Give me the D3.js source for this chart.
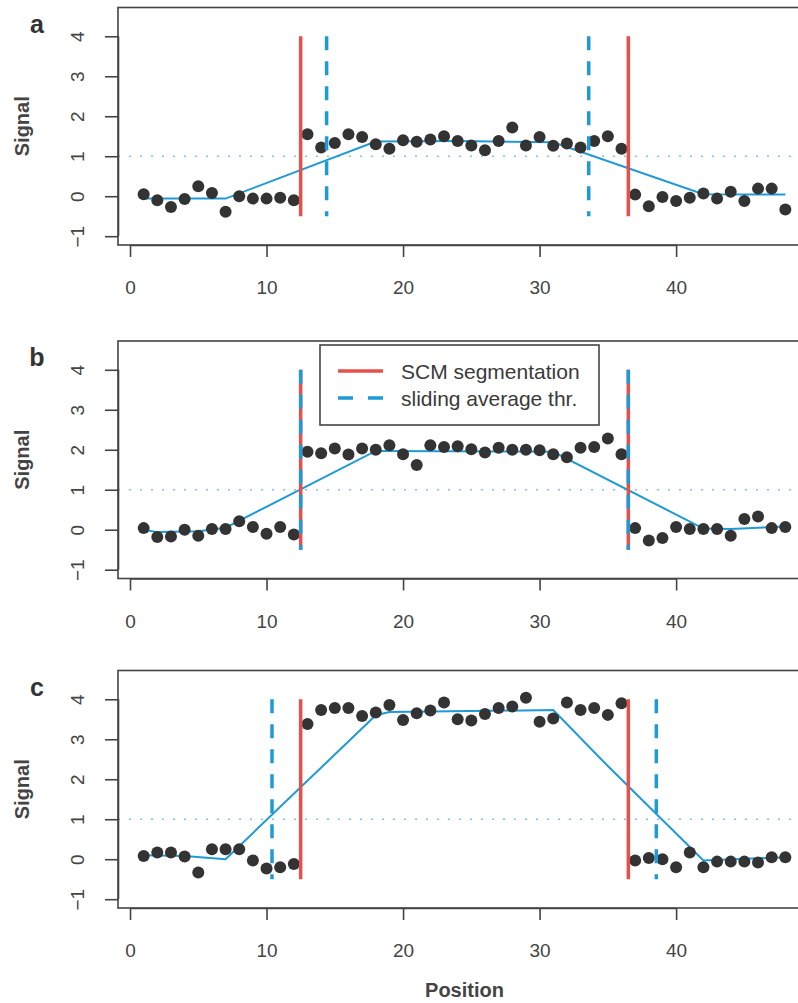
<!DOCTYPE html>
<html>
<head>
<meta charset="utf-8">
<script src="https://cdnjs.cloudflare.com/ajax/libs/d3/7.8.5/d3.min.js"></script>
<style>
  body { margin: 0; background: #fff; }
  svg { display: block; font-family: "Liberation Sans", Arial, Helvetica, sans-serif; }
</style>
</head>
<body>
<div id="chart"></div>
<script>
// ---- data ----
const positions = d3.range(1, 49);

const signalA = [0.05, -0.1, -0.27, -0.07, 0.25, 0.08, -0.39, 0.0, -0.06, -0.06, -0.04, -0.1,
  1.55, 1.22, 1.33, 1.55, 1.48, 1.3, 1.19, 1.4, 1.36, 1.42, 1.5, 1.38,
  1.27, 1.15, 1.38, 1.72, 1.27, 1.48, 1.26, 1.32, 1.22, 1.38, 1.5, 1.19,
  0.04, -0.25, -0.02, -0.12, -0.04, 0.07, -0.06, 0.11, -0.12, 0.19, 0.19, -0.33];

const signalB = [0.04, -0.18, -0.17, 0.0, -0.15, 0.02, 0.02, 0.21, 0.07, -0.1, 0.07, -0.12,
  1.95, 1.91, 2.03, 1.88, 2.03, 2.0, 2.11, 1.89, 1.62, 2.11, 2.07, 2.09,
  2.01, 1.93, 2.05, 2.0, 2.0, 1.99, 1.89, 1.81, 2.05, 2.07, 2.28, 1.89,
  0.04, -0.27, -0.21, 0.07, 0.02, 0.02, 0.02, -0.15, 0.27, 0.33, 0.04, 0.07];

const signalC = [0.08, 0.17, 0.17, 0.07, -0.33, 0.25, 0.25, 0.25, -0.03, -0.23, -0.2, -0.12,
  3.38, 3.73, 3.78, 3.78, 3.58, 3.67, 3.86, 3.48, 3.65, 3.72, 3.92, 3.5,
  3.47, 3.63, 3.78, 3.82, 4.04, 3.44, 3.52, 3.92, 3.73, 3.78, 3.61, 3.9,
  -0.03, 0.03, 0.0, -0.2, 0.17, -0.2, -0.06, -0.06, -0.06, -0.08, 0.05, 0.05];

// sliding average curve, vertices as seen in the figure
const avgPosA = [1, 7, 18, 24, 31, 42, 48];
const avgValA = [-0.06, -0.06, 1.37, 1.38, 1.35, 0.05, 0.04];
const avgPosB = [1, 2, 5, 7, 18, 31, 42, 44, 48];
const avgValB = [0.0, -0.06, -0.04, 0.05, 1.97, 1.95, 0.03, 0.02, 0.08];
const avgPosC = [1, 4, 7, 18, 19, 31, 35, 42, 48];
const avgValC = [0.1, 0.08, 0.0, 3.6, 3.68, 3.73, 2.33, -0.03, 0.05];

const scmBreaks = [12.5, 36.5];
const thrBreaksA = [14.4, 33.6];
const thrBreaksB = [12.5, 36.5];
const thrBreaksC = [10.4, 38.55];

const panelLabels = ["a", "b", "c"];
const xTicks = [0, 10, 20, 30, 40];
const yTicks = [-1, 0, 1, 2, 3, 4];
const threshold = 1;
const legendLabels = ["SCM segmentation", "sliding average thr."];

const panels = [
  { label: panelLabels[0], signal: signalA, avgPos: avgPosA, avgVal: avgValA, thr: thrBreaksA },
  { label: panelLabels[1], signal: signalB, avgPos: avgPosB, avgVal: avgValB, thr: thrBreaksB, legend: true },
  { label: panelLabels[2], signal: signalC, avgPos: avgPosC, avgVal: avgValC, thr: thrBreaksC }
];

// ---- layout ----
const W = 798, H = 1003;
const red = "#e5504a", blue = "#1e9ad6", dotBlue = "#78c8ea", ink = "#444";
const panelTop = [7.5, 341, 670.5];
const panelH = 237.5;

const svg = d3.select("#chart").append("svg")
  .attr("width", W)
  .attr("height", H);

// x scale shared by all panels (R style 4% padding)
const x = d3.scaleLinear()
  .domain([-0.88, 49.88])
  .range([118, 811]);

panels.forEach(function (p, k) {
  const top = panelTop[k];
  const y = d3.scaleLinear()
    .domain([-1.22, 4.72])
    .range([top + panelH, top]);

  const g = svg.append("g");

  // threshold dotted line
  g.append("line")
    .attr("x1", x.range()[0]).attr("x2", x.range()[1])
    .attr("y1", y(threshold)).attr("y2", y(threshold))
    .attr("stroke", dotBlue)
    .attr("stroke-width", 1.6)
    .attr("stroke-dasharray", "2,9");

  // sliding average
  const line = d3.line()
    .x(function (d) { return x(d[0]); })
    .y(function (d) { return y(d[1]); });
  g.append("path")
    .datum(d3.zip(p.avgPos, p.avgVal))
    .attr("d", line)
    .attr("fill", "none")
    .attr("stroke", blue)
    .attr("stroke-width", 2);

  // points
  g.selectAll("circle")
    .data(d3.zip(positions, p.signal))
    .enter()
    .append("circle")
    .attr("cx", function (d) { return x(d[0]); })
    .attr("cy", function (d) { return y(d[1]); })
    .attr("r", 6)
    .attr("fill", "#333");

  // SCM segmentation breaks
  g.selectAll(".scm")
    .data(scmBreaks)
    .enter()
    .append("line")
    .attr("class", "scm")
    .attr("x1", function (d) { return x(d); })
    .attr("x2", function (d) { return x(d); })
    .attr("y1", y(-0.5)).attr("y2", y(4))
    .attr("stroke", red)
    .attr("stroke-width", 3.5);

  // sliding average threshold breaks
  g.selectAll(".thr")
    .data(p.thr)
    .enter()
    .append("line")
    .attr("class", "thr")
    .attr("x1", function (d) { return x(d); })
    .attr("x2", function (d) { return x(d); })
    .attr("y1", y(4)).attr("y2", y(-0.5))
    .attr("stroke", blue)
    .attr("stroke-width", 3.5)
    .attr("stroke-dasharray", "14,11");

  // box
  g.append("rect")
    .attr("x", x.range()[0]).attr("y", top)
    .attr("width", x.range()[1] - x.range()[0])
    .attr("height", panelH)
    .attr("fill", "none")
    .attr("stroke", ink)
    .attr("stroke-width", 1.6);

  // x axis
  const xAxis = d3.axisBottom(x).tickValues(xTicks).tickSize(12).tickPadding(24);
  const xa = g.append("g")
    .attr("transform", "translate(0," + (top + panelH) + ")")
    .call(xAxis);
  xa.select(".domain").attr("d", "M" + x(0) + ",0.5H" + x(40)).attr("stroke", ink).attr("stroke-width", 1.6);
  xa.selectAll(".tick line").attr("stroke", ink).attr("stroke-width", 1.6);
  xa.selectAll(".tick text")
    .attr("font-size", 19).attr("fill", ink)
    .attr("font-family", "Liberation Sans, Arial, sans-serif");

  // y axis
  const yAxis = d3.axisLeft(y).tickValues(yTicks).tickSize(13).tickFormat(d3.format("d"));
  const ya = g.append("g")
    .attr("transform", "translate(" + x.range()[0] + ",0)")
    .call(yAxis);
  ya.select(".domain").attr("d", "M0.5," + y(-1) + "V" + y(4)).attr("stroke", ink).attr("stroke-width", 1.6);
  ya.selectAll(".tick line").attr("stroke", ink).attr("stroke-width", 1.6);
  ya.selectAll(".tick text")
    .attr("x", null).attr("dy", null)
    .attr("transform", "translate(-34,0) rotate(-90)")
    .attr("text-anchor", "middle")
    .attr("dominant-baseline", "auto")
    .attr("font-size", 19).attr("fill", ink)
    .attr("font-family", "Liberation Sans, Arial, sans-serif");

  // y title
  g.append("text")
    .attr("transform", "translate(29," + (top + panelH / 2) + ") rotate(-90)")
    .attr("text-anchor", "middle")
    .attr("font-size", 20)
    .attr("font-weight", "bold")
    .attr("fill", ink)
    .text("Signal");

  // panel letter
  g.append("text")
    .attr("x", 37).attr("y", top + 25)
    .attr("text-anchor", "middle")
    .attr("font-size", 25)
    .attr("font-weight", "bold")
    .attr("fill", "#333")
    .text(p.label);

  if (p.legend) {
    const lg = g.append("g");
    lg.append("rect")
      .attr("x", 320).attr("y", top + 4)
      .attr("width", 279).attr("height", 80)
      .attr("fill", "#fff")
      .attr("stroke", ink)
      .attr("stroke-width", 1.6);
    lg.append("line")
      .attr("x1", 338).attr("x2", 383)
      .attr("y1", top + 30).attr("y2", top + 30)
      .attr("stroke", red).attr("stroke-width", 3.5);
    lg.append("line")
      .attr("x1", 338).attr("x2", 383)
      .attr("y1", top + 57).attr("y2", top + 57)
      .attr("stroke", blue).attr("stroke-width", 3.5)
      .attr("stroke-dasharray", "15,15");
    lg.selectAll("text")
      .data(legendLabels)
      .enter()
      .append("text")
      .attr("x", 401)
      .attr("y", function (d, i) { return top + 38 + i * 27; })
      .attr("font-size", 21)
      .attr("fill", "#3a3a3a")
      .text(function (d) { return d; });
  }
});

// x title
svg.append("text")
  .attr("x", (x.range()[0] + x.range()[1]) / 2)
  .attr("y", 997)
  .attr("text-anchor", "middle")
  .attr("font-size", 20)
  .attr("font-weight", "bold")
  .attr("fill", ink)
  .text("Position");
</script>
</body>
</html>
